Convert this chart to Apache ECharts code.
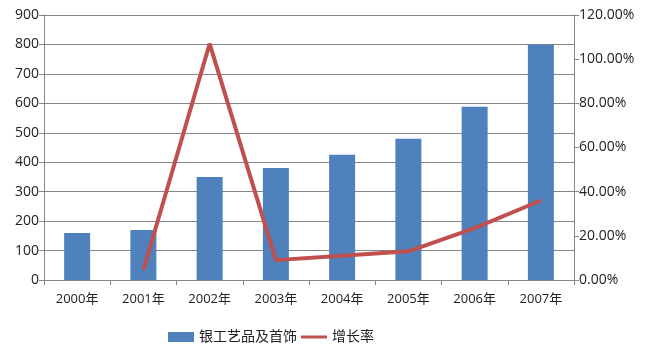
<!DOCTYPE html>
<html><head><meta charset="utf-8">
<script src="https://cdn.jsdelivr.net/npm/echarts@6/dist/echarts.min.js"></script>
<style>html,body{margin:0;padding:0;background:#fff}#c{width:651px;height:361px}</style>
</head><body><div id="c"></div>
<script>
const categories = ['2000年','2001年','2002年','2003年','2004年','2005年','2006年','2007年'];
const barValues = [160, 170, 350, 380, 425, 480, 588, 800];
const growthValues = [null, 4.5, 107, 9, 11, 13, 23.5, 36];
const barName = '银工艺品及首饰';
const lineName = '增长率';

const font = '"Open Sans", "Noto Sans CJK SC", sans-serif';
const chart = echarts.init(document.getElementById('c'));
chart.setOption({
  animation: false,
  textStyle: {fontFamily: font},
  grid: {left: 44, right: 77, top: 15, bottom: 81},
  legend: {
    bottom: 12, left: 163, itemGap: 4, itemWidth: 26, itemHeight: 10,
    textStyle: {fontSize: 14, color: '#222', fontFamily: font},
    data: [
      {name: barName, icon: 'rect'},
      {name: lineName, icon: 'path://M0,0 L0.01,0 L0.01,0.01 Z M0,3.5 L26,3.5 L26,6.5 L0,6.5 Z M25.99,9.99 L26,10 L25.99,10 Z'}
    ]
  },
  xAxis: {
    type: 'category', data: categories,
    axisLine: {lineStyle: {color: '#868686'}},
    axisTick: {show: true, length: 5, lineStyle: {color: '#868686'}},
    axisLabel: {color: '#222', fontSize: 13, margin: 13}
  },
  yAxis: [{
    type: 'value', min: 0, max: 900, interval: 100,
    axisLine: {show: true, lineStyle: {color: '#868686'}},
    axisTick: {show: true, length: 5, lineStyle: {color: '#868686'}},
    splitLine: {lineStyle: {color: '#868686'}},
    axisLabel: {color: '#222', fontSize: 14, margin: 5}
  }, {
    type: 'value', min: 0, max: 120, interval: 20,
    axisLine: {show: true, lineStyle: {color: '#868686'}},
    axisTick: {show: true, length: 5, lineStyle: {color: '#868686'}},
    splitLine: {show: false},
    axisLabel: {color: '#222', fontSize: 14, margin: 5, formatter: v => v.toFixed(2) + '%'}
  }],
  series: [{
    name: barName, type: 'bar', data: barValues, barWidth: 26,
    itemStyle: {color: '#4F81BD'}
  }, {
    name: lineName, type: 'line', yAxisIndex: 1, data: growthValues,
    showSymbol: false, symbol: 'none',
    lineStyle: {color: '#C0504D', width: 4},
    itemStyle: {color: '#C0504D'}
  }]
});
</script></body></html>
